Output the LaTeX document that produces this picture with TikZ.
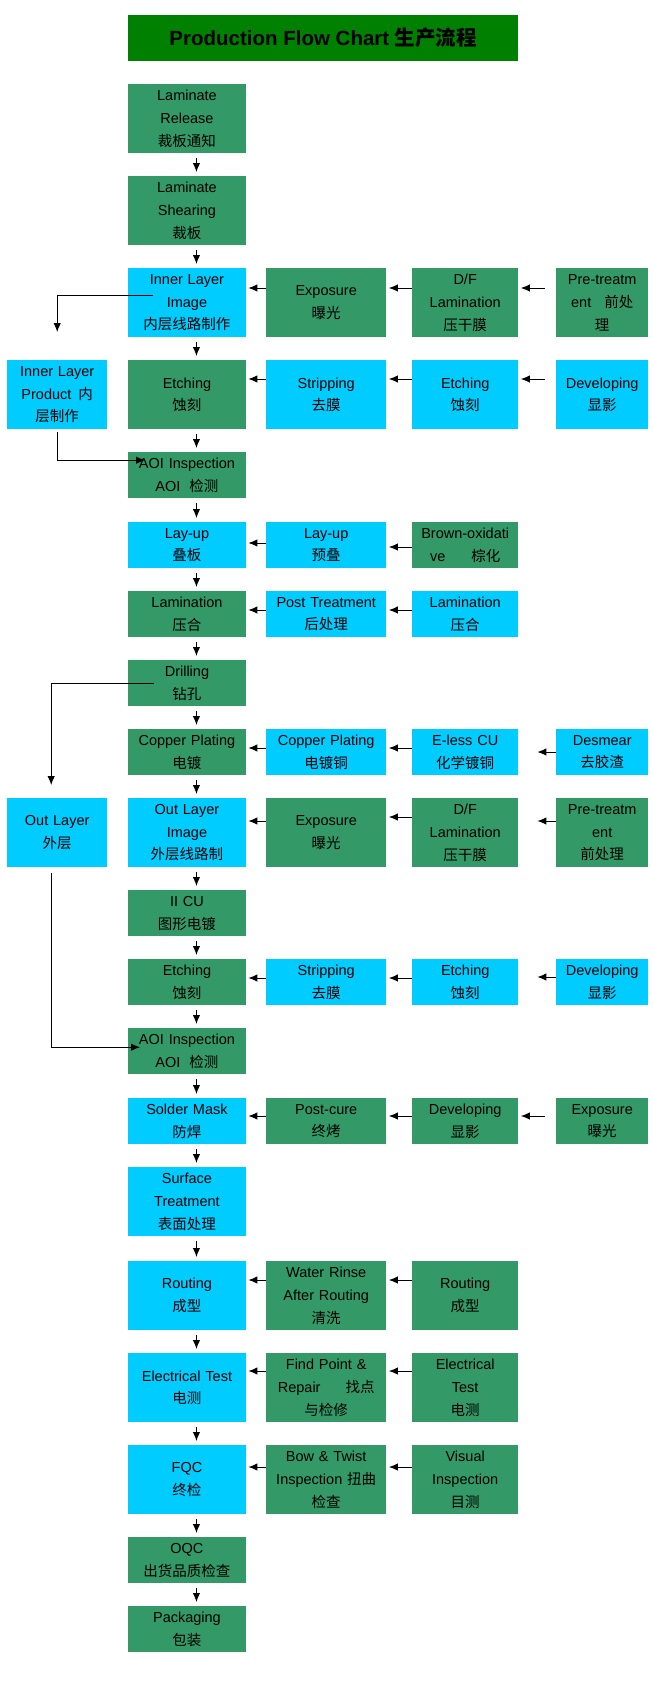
\documentclass[tikz,border=0pt]{standalone}
\usepackage{fontspec}
\setmainfont{Liberation Sans}
\newfontfamily\cjk{Noto Sans CJK SC}
\usetikzlibrary{arrows.meta}
\definecolor{seagreen}{HTML}{339966}
\definecolor{skyblue}{HTML}{00CCFF}
\definecolor{titlegreen}{HTML}{008000}
\begin{document}
\begin{tikzpicture}[x=1pt,y=-1pt,
    box/.style={anchor=north west,inner sep=0pt,align=center,
      font=\fontsize{14.5}{22.7}\selectfont,minimum height=46pt},
    tall/.style={minimum height=69pt},
    greenbox/.style={box,fill=seagreen},
    bluebox/.style={box,fill=skyblue},
    w0/.style={text width=100pt},
    w1/.style={text width=117.5pt},
    w2/.style={text width=120pt},
    w3/.style={text width=106pt},
    w4/.style={text width=92pt},
    arr/.style={-{Latex[length=9pt,width=7.5pt]},line width=1pt},
  ]
  \useasboundingbox (0,0) rectangle (653,1700);
  \draw
    (128,15) node[anchor=north west,inner sep=0pt,fill=titlegreen,
      minimum width=390pt,minimum height=46pt,
      font=\fontsize{20.5}{24}\selectfont\bfseries] (title)
      {Production Flow Chart {\cjk 生产流程}}
    (128,84) node[greenbox,tall,w1] (lr) {Laminate\\Release\\{\cjk 裁板通知}}
    (128,176) node[greenbox,tall,w1] (ls) {Laminate\\Shearing\\{\cjk 裁板}}
    (128,268) node[bluebox,tall,w1] (ili) {Inner Layer\\Image\\{\cjk 内层线路制作}}
    (266,268) node[greenbox,tall,w2] (exp1) {Exposure\\{\cjk 曝光}}
    (412,268) node[greenbox,tall,w3] (dfl1) {D/F\\Lamination\\{\cjk 压干膜}}
    (556,268) node[greenbox,tall,w4] (pre1) {Pre-treatm\\ent\hspace{13pt}{\cjk 前处}\\{\cjk 理}}
    (7,360) node[bluebox,tall,w0] (ilp) {Inner Layer\\Product\hspace{7pt}{\cjk 内}\\{\cjk 层制作}}
    (128,360) node[greenbox,tall,w1] (et1) {Etching\\{\cjk 蚀刻}}
    (266,360) node[bluebox,tall,w2] (str1) {Stripping\\{\cjk 去膜}}
    (412,360) node[bluebox,tall,w3] (et2) {Etching\\{\cjk 蚀刻}}
    (556,360) node[bluebox,tall,w4] (dev1) {Developing\\{\cjk 显影}}
    (128,452) node[greenbox,w1] (aoi1) {AOI Inspection\\AOI\hspace{9pt}{\cjk 检测}}
    (128,522) node[bluebox,w1] (lay1) {Lay-up\\{\cjk 叠板}}
    (266,522) node[bluebox,w2] (lay2) {Lay-up\\{\cjk 预叠}}
    (412,522) node[greenbox,w3] (bro) {Brown-oxidati\\ve\hspace{26pt}{\cjk 棕化}}
    (128,591) node[greenbox,w1] (lam1) {Lamination\\{\cjk 压合}}
    (266,591) node[bluebox,w2] (post) {Post Treatment\\{\cjk 后处理}}
    (412,591) node[bluebox,w3] (lam2) {Lamination\\{\cjk 压合}}
    (128,660) node[greenbox,w1] (dri) {Drilling\\{\cjk 钻孔}}
    (128,729) node[greenbox,w1] (cop1) {Copper Plating\\{\cjk 电镀}}
    (266,729) node[bluebox,w2] (cop2) {Copper Plating\\{\cjk 电镀铜}}
    (412,729) node[bluebox,w3] (eless) {E-less CU\\{\cjk 化学镀铜}}
    (556,729) node[bluebox,w4] (des) {Desmear\\{\cjk 去胶渣}}
    (7,798) node[bluebox,tall,w0] (ol) {Out Layer\\{\cjk 外层}}
    (128,798) node[bluebox,tall,w1] (oli) {Out Layer\\Image\\{\cjk 外层线路制}}
    (266,798) node[greenbox,tall,w2] (exp2) {Exposure\\{\cjk 曝光}}
    (412,798) node[greenbox,tall,w3] (dfl2) {D/F\\Lamination\\{\cjk 压干膜}}
    (556,798) node[greenbox,tall,w4] (pre2) {Pre-treatm\\ent\\{\cjk 前处理}}
    (128,890) node[greenbox,w1] (cu) {II CU\\{\cjk 图形电镀}}
    (128,959) node[greenbox,w1] (et3) {Etching\\{\cjk 蚀刻}}
    (266,959) node[bluebox,w2] (str2) {Stripping\\{\cjk 去膜}}
    (412,959) node[bluebox,w3] (et4) {Etching\\{\cjk 蚀刻}}
    (556,959) node[bluebox,w4] (dev2) {Developing\\{\cjk 显影}}
    (128,1028) node[greenbox,w1] (aoi2) {AOI Inspection\\AOI\hspace{9pt}{\cjk 检测}}
    (128,1098) node[bluebox,w1] (sol) {Solder Mask\\{\cjk 防焊}}
    (266,1098) node[greenbox,w2] (cure) {Post-cure\\{\cjk 终烤}}
    (412,1098) node[greenbox,w3] (dev3) {Developing\\{\cjk 显影}}
    (556,1098) node[greenbox,w4] (exp3) {Exposure\\{\cjk 曝光}}
    (128,1167) node[bluebox,tall,w1] (sur) {Surface\\Treatment\\{\cjk 表面处理}}
    (128,1261) node[bluebox,tall,w1] (rou1) {Routing\\{\cjk 成型}}
    (266,1261) node[greenbox,tall,w2] (rin) {Water Rinse\\After Routing\\{\cjk 清洗}}
    (412,1261) node[greenbox,tall,w3] (rou2) {Routing\\{\cjk 成型}}
    (128,1353) node[bluebox,tall,w1] (ele1) {Electrical Test\\{\cjk 电测}}
    (266,1353) node[greenbox,tall,w2] (fix) {Find Point \&\\Repair\hspace{25pt}{\cjk 找点}\\{\cjk 与检修}}
    (412,1353) node[greenbox,tall,w3] (ele2) {Electrical\\Test\\{\cjk 电测}}
    (128,1445) node[bluebox,tall,w1] (fqc) {FQC\\{\cjk 终检}}
    (266,1445) node[greenbox,tall,w2] (bow) {Bow \& Twist\\Inspection {\cjk 扭曲}\\{\cjk 检查}}
    (412,1445) node[greenbox,tall,w3] (vis) {Visual\\Inspection\\{\cjk 目测}}
    (128,1537) node[greenbox,w1] (oqc) {OQC\\{\cjk 出货品质检查}}
    (128,1606) node[greenbox,w1] (pack) {Packaging\\{\cjk 包装}};
  \begin{scope}[arr,shorten <=5pt,shorten >=4pt]
    \draw ([xshift=9.5pt]lr.south) to ([xshift=9.5pt]ls.north);
    \draw ([xshift=9.5pt]ls.south) to ([xshift=9.5pt]ili.north);
    \draw ([xshift=9.5pt]ili.south) to ([xshift=9.5pt]et1.north);
    \draw ([xshift=9.5pt]et1.south) to ([xshift=9.5pt]aoi1.north);
    \draw ([xshift=9.5pt]aoi1.south) to ([xshift=9.5pt]lay1.north);
    \draw ([xshift=9.5pt]lay1.south) to ([xshift=9.5pt]lam1.north);
    \draw ([xshift=9.5pt]lam1.south) to ([xshift=9.5pt]dri.north);
    \draw ([xshift=9.5pt]dri.south) to ([xshift=9.5pt]cop1.north);
    \draw ([xshift=9.5pt]cop1.south) to ([xshift=9.5pt]oli.north);
    \draw ([xshift=9.5pt]oli.south) to ([xshift=9.5pt]cu.north);
    \draw ([xshift=9.5pt]cu.south) to ([xshift=9.5pt]et3.north);
    \draw ([xshift=9.5pt]et3.south) to ([xshift=9.5pt]aoi2.north);
    \draw ([xshift=9.5pt]aoi2.south) to ([xshift=9.5pt]sol.north);
    \draw ([xshift=9.5pt]sol.south) to ([xshift=9.5pt]sur.north);
    \draw ([xshift=9.5pt]sur.south) to ([xshift=9.5pt]rou1.north);
    \draw ([xshift=9.5pt]rou1.south) to ([xshift=9.5pt]ele1.north);
    \draw ([xshift=9.5pt]ele1.south) to ([xshift=9.5pt]fqc.north);
    \draw ([xshift=9.5pt]fqc.south) to ([xshift=9.5pt]oqc.north);
    \draw ([xshift=9.5pt]oqc.south) to ([xshift=9.5pt]pack.north);
  \end{scope}
  \begin{scope}[arr,shorten >=2.5pt]
    \draw ([yshift=-20pt]exp1.north west) to ([yshift=-20pt]ili.north east);
    \draw ([yshift=-20pt]dfl1.north west) to ([yshift=-20pt]exp1.north east);
    \draw[shorten <=11pt] ([yshift=-20pt]pre1.north west) to ([yshift=-20pt]dfl1.north east);
    \draw ([yshift=-19pt]str1.north west) to ([yshift=-19pt]et1.north east);
    \draw ([yshift=-19pt]et2.north west) to ([yshift=-19pt]str1.north east);
    \draw[shorten <=11pt] ([yshift=-19pt]dev1.north west) to ([yshift=-19pt]et2.north east);
    \draw ([yshift=-21pt]lay2.north west) to ([yshift=-21pt]lay1.north east);
    \draw ([yshift=-25pt]bro.north west) to ([yshift=-25pt]lay2.north east);
    \draw ([yshift=-19pt]post.north west) to ([yshift=-19pt]lam1.north east);
    \draw ([yshift=-19pt]lam2.north west) to ([yshift=-19pt]post.north east);
    \draw ([yshift=-19pt]cop2.north west) to ([yshift=-19pt]cop1.north east);
    \draw ([yshift=-19pt]eless.north west) to ([yshift=-19pt]cop2.north east);
    \draw[shorten >=19pt] ([yshift=-23pt]des.north west) to ([yshift=-23pt]eless.north east);
    \draw ([yshift=-23pt]exp2.north west) to ([yshift=-23pt]oli.north east);
    \draw ([yshift=-19pt]dfl2.north west) to ([yshift=-19pt]exp2.north east);
    \draw[shorten >=19pt] ([yshift=-23pt]pre2.north west) to ([yshift=-23pt]dfl2.north east);
    \draw ([yshift=-19pt]str2.north west) to ([yshift=-19pt]et3.north east);
    \draw ([yshift=-19pt]et4.north west) to ([yshift=-19pt]str2.north east);
    \draw[shorten >=19pt] ([yshift=-18pt]dev2.north west) to ([yshift=-18pt]et4.north east);
    \draw ([yshift=-18pt]cure.north west) to ([yshift=-18pt]sol.north east);
    \draw ([yshift=-18pt]dev3.north west) to ([yshift=-18pt]cure.north east);
    \draw[shorten <=11pt] ([yshift=-18pt]exp3.north west) to ([yshift=-18pt]dev3.north east);
    \draw ([yshift=-19pt]rin.north west) to ([yshift=-19pt]rou1.north east);
    \draw ([yshift=-19pt]rou2.north west) to ([yshift=-19pt]rin.north east);
    \draw ([yshift=-18pt]fix.north west) to ([yshift=-18pt]ele1.north east);
    \draw ([yshift=-18pt]ele2.north west) to ([yshift=-18pt]fix.north east);
    \draw ([yshift=-22pt]bow.north west) to ([yshift=-22pt]fqc.north east);
    \draw ([yshift=-22pt]vis.north west) to ([yshift=-22pt]bow.north east);
  \end{scope}
  \begin{scope}[arr]
    \draw[shorten >=28pt] ([xshift=25pt,yshift=7.5pt]ili.west) -| (ilp.north);
    \draw[shorten <=3pt] (ilp.south) |- ([xshift=17pt,yshift=15pt]aoi1.west);
    \draw[shorten >=13pt] ([xshift=26pt]dri.west) -| ([xshift=-6pt]ol.north);
    \draw[shorten <=6pt] ([xshift=-6pt]ol.south) |- ([xshift=12pt,yshift=4pt]aoi2.west);
  \end{scope}
\end{tikzpicture}
\end{document}
